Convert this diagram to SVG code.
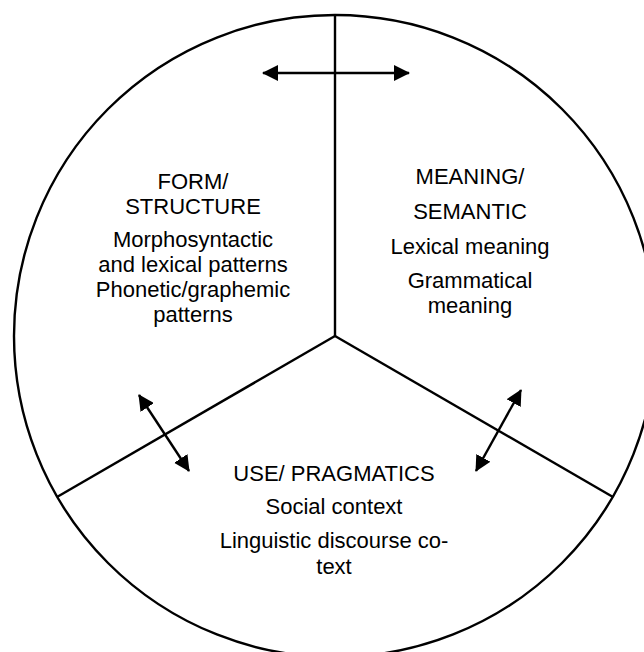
<svg xmlns="http://www.w3.org/2000/svg" width="644" height="652" viewBox="0 0 644 652">
  <style>
    .ln { stroke: #000; stroke-width: 2.4; fill: none; }
    .ar { stroke: #000; stroke-width: 2.4; fill: none; marker-start: url(#head); marker-end: url(#head); }
    text { font-family: "Liberation Sans", Arial, sans-serif; font-size: 22px; fill: #000; text-anchor: middle; }
  </style>
  <defs>
    <marker id="head" viewBox="0 0 16 16" refX="15" refY="8" markerWidth="16" markerHeight="16" markerUnits="userSpaceOnUse" orient="auto-start-reverse">
      <path d="M0,0 L16,8 L0,16 z" fill="#000"/>
    </marker>
  </defs>
  <rect width="644" height="652" fill="#fff"/>

  <!-- outer circle split into three sectors -->
  <g id="frame">
    <circle class="ln" cx="335" cy="336" r="321"/>
    <line class="ln" x1="335" y1="15" x2="335" y2="336"/>
    <line class="ln" x1="335" y1="336" x2="57" y2="497"/>
    <line class="ln" x1="335" y1="336" x2="613" y2="497"/>
  </g>

  <g id="form">
    <text x="193" y="189">FORM/</text>
    <text x="193" y="214">STRUCTURE</text>
    <text x="193" y="247">Morphosyntactic</text>
    <text x="193" y="272">and lexical patterns</text>
    <text x="193" y="297">Phonetic/graphemic</text>
    <text x="193" y="322">patterns</text>
  </g>

  <g id="meaning">
    <text x="470" y="184">MEANING/</text>
    <text x="470" y="219">SEMANTIC</text>
    <text x="470" y="254">Lexical meaning</text>
    <text x="470" y="288">Grammatical</text>
    <text x="470" y="313">meaning</text>
  </g>

  <g id="use">
    <text x="334" y="481">USE/ PRAGMATICS</text>
    <text x="334" y="514">Social context</text>
    <text x="334" y="548">Linguistic discourse co-</text>
    <text x="334" y="574">text</text>
  </g>

  <g id="connectors">
    <line class="ar" x1="263" y1="73" x2="409" y2="73"/>
    <line class="ar" x1="139" y1="395" x2="189" y2="471"/>
    <line class="ar" x1="521" y1="390" x2="476" y2="471"/>
  </g>
</svg>
